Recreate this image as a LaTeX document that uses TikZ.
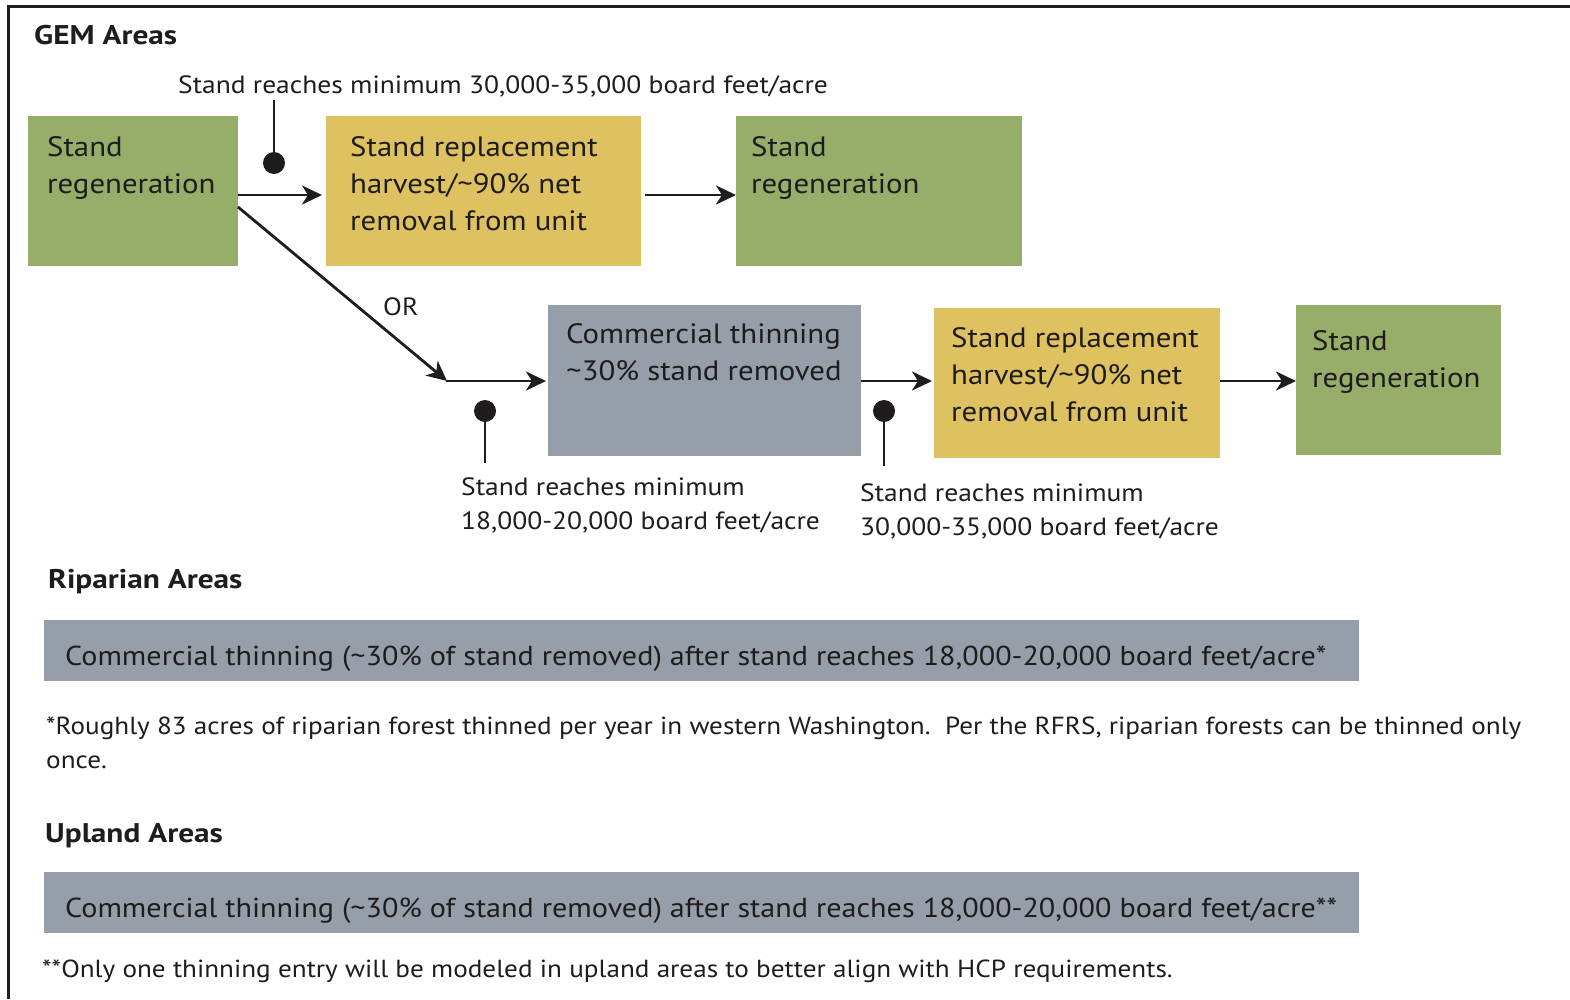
\documentclass[tikz,border=0pt]{standalone}
\usepackage{fontspec}
\setmainfont[FakeStretch=1.1,BoldFeatures={FakeStretch=1.16}]{PT Sans}
\usetikzlibrary{arrows.meta}
\definecolor{gGreen}{RGB}{151,174,106}
\definecolor{gYellow}{RGB}{222,193,97}
\definecolor{gGray}{RGB}{150,158,170}
\definecolor{ink}{RGB}{30,28,29}
\begin{document}
\begin{tikzpicture}[x=1pt,y=-1pt,
  box/.style={rectangle,inner sep=0pt,anchor=north west,draw=none},
  boxtext/.style={inner sep=0pt,anchor=north west,align=left,text=ink,font=\fontsize{28}{37}\selectfont},
  lab/.style={inner sep=0pt,anchor=north west,align=left,text=ink,font=\fontsize{25}{34}\selectfont},
  head/.style={inner sep=0pt,anchor=north west,text=ink,font=\fontsize{27}{30}\selectfont\bfseries},
  bartext/.style={inner sep=0pt,anchor=west,text=ink,font=\fontsize{27.4}{30}\selectfont},
  note/.style={inner sep=0pt,anchor=north west,align=left,text=ink,font=\fontsize{24.7}{34}\selectfont},
  flow/.style={ink,line width=2.8pt,-{Stealth[length=20pt,width=19pt,inset=6pt]}},
  pin/.style={ink,line width=2.2pt},
  dot/.style={circle,fill=ink,inner sep=0pt,minimum size=22pt}]
\useasboundingbox (0,0) rectangle (1570,999);
\draw[ink,line width=3pt] (8,999) -- (8,6) -- (1570,6);
% boxes
\node[box,fill=gGreen,minimum width=210pt,minimum height=150pt] (g1) at (28,116) {};
\node[box,fill=gYellow,minimum width=315pt,minimum height=150pt] (y1) at (326,116) {};
\node[box,fill=gGreen,minimum width=286pt,minimum height=150pt] (g2) at (736,116) {};
\node[box,fill=gGray,minimum width=313pt,minimum height=151pt] (c1) at (548,305) {};
\node[box,fill=gYellow,minimum width=286pt,minimum height=150pt] (y2) at (934,308) {};
\node[box,fill=gGreen,minimum width=205pt,minimum height=150pt] (g3) at (1296,305) {};
\node[boxtext] (tg1) at (47,136) {Stand\\regeneration};
\node[boxtext] (ty1) at (350,136) {Stand replacement\\harvest/\textasciitilde90\% net\\removal from unit};
\node[boxtext] (tg2) at (751,136) {Stand\\regeneration};
\node[boxtext] (tc1) at (566,323) {Commercial thinning\\\textasciitilde30\% stand removed};
\node[boxtext] (ty2) at (951,327) {Stand replacement\\harvest/\textasciitilde90\% net\\removal from unit};
\node[boxtext] (tg3) at (1312,330) {Stand\\regeneration};
% headings
\node[head] (h1) at (34,25) {GEM Areas};
\node[head] (h2) at (48,569) {Riparian Areas};
\node[head] (h3) at (45,823) {Upland Areas};
% labels
\node[lab] (l1) at (178,75) {Stand reaches minimum 30,000-35,000 board feet/acre};
\node[lab] (l2) at (461,477) {Stand reaches minimum\\18,000-20,000 board feet/acre};
\node[lab] (l3) at (860,483) {Stand reaches minimum\\30,000-35,000 board feet/acre};
\node[lab] (or) at (383,297) {OR};
% coordinates
\coordinate (a1s) at (238,195);
\coordinate (a1e) at (322,195);
\coordinate (a2s) at (645,195);
\coordinate (a2e) at (736,195);
\coordinate (ds) at (238,207);
\coordinate (de) at (447,381);
\coordinate (a3e) at (546,381);
\coordinate (a4s) at (861,381);
\coordinate (a4e) at (932,381);
\coordinate (a5s) at (1220,381);
\coordinate (a5e) at (1296,381);
\draw[flow] (a1s) -- (a1e);
\draw[flow] (a2s) -- (a2e);
\draw[flow] (ds) -- (de);
\draw[flow,shorten <=-1pt] (de) -- (a3e);
\draw[flow] (a4s) -- (a4e);
\draw[flow] (a5s) -- (a5e);
% pins
\node[dot] (p1) at (274,163) {};
\coordinate (p1t) at (274,100);
\draw[pin] (p1t) -- (p1.center);
\node[dot] (p2) at (485,411) {};
\coordinate (p2b) at (485,463);
\draw[pin] (p2.center) -- (p2b);
\node[dot] (p3) at (884,411) {};
\coordinate (p3b) at (884,466);
\draw[pin] (p3.center) -- (p3b);
% bars
\node[box,fill=gGray,minimum width=1315pt,minimum height=61pt] (rb) at (44,620) {};
\node[bartext] (rbt) at (65,659) {Commercial thinning (\textasciitilde30\% of stand removed) after stand reaches 18,000-20,000 board feet/acre*};
\node[box,fill=gGray,minimum width=1315pt,minimum height=61pt] (ub) at (44,872) {};
\node[bartext] (ubt) at (65,911) {Commercial thinning (\textasciitilde30\% of stand removed) after stand reaches 18,000-20,000 board feet/acre**};
\node[note] (n1) at (46,717) {*Roughly 83 acres of riparian forest thinned per year in western Washington.\ \ Per the RFRS, riparian forests can be thinned only\\once.};
\node[note] (n2) at (42,960) {**Only one thinning entry will be modeled in upland areas to better align with HCP requirements.};
\end{tikzpicture}
\end{document}
